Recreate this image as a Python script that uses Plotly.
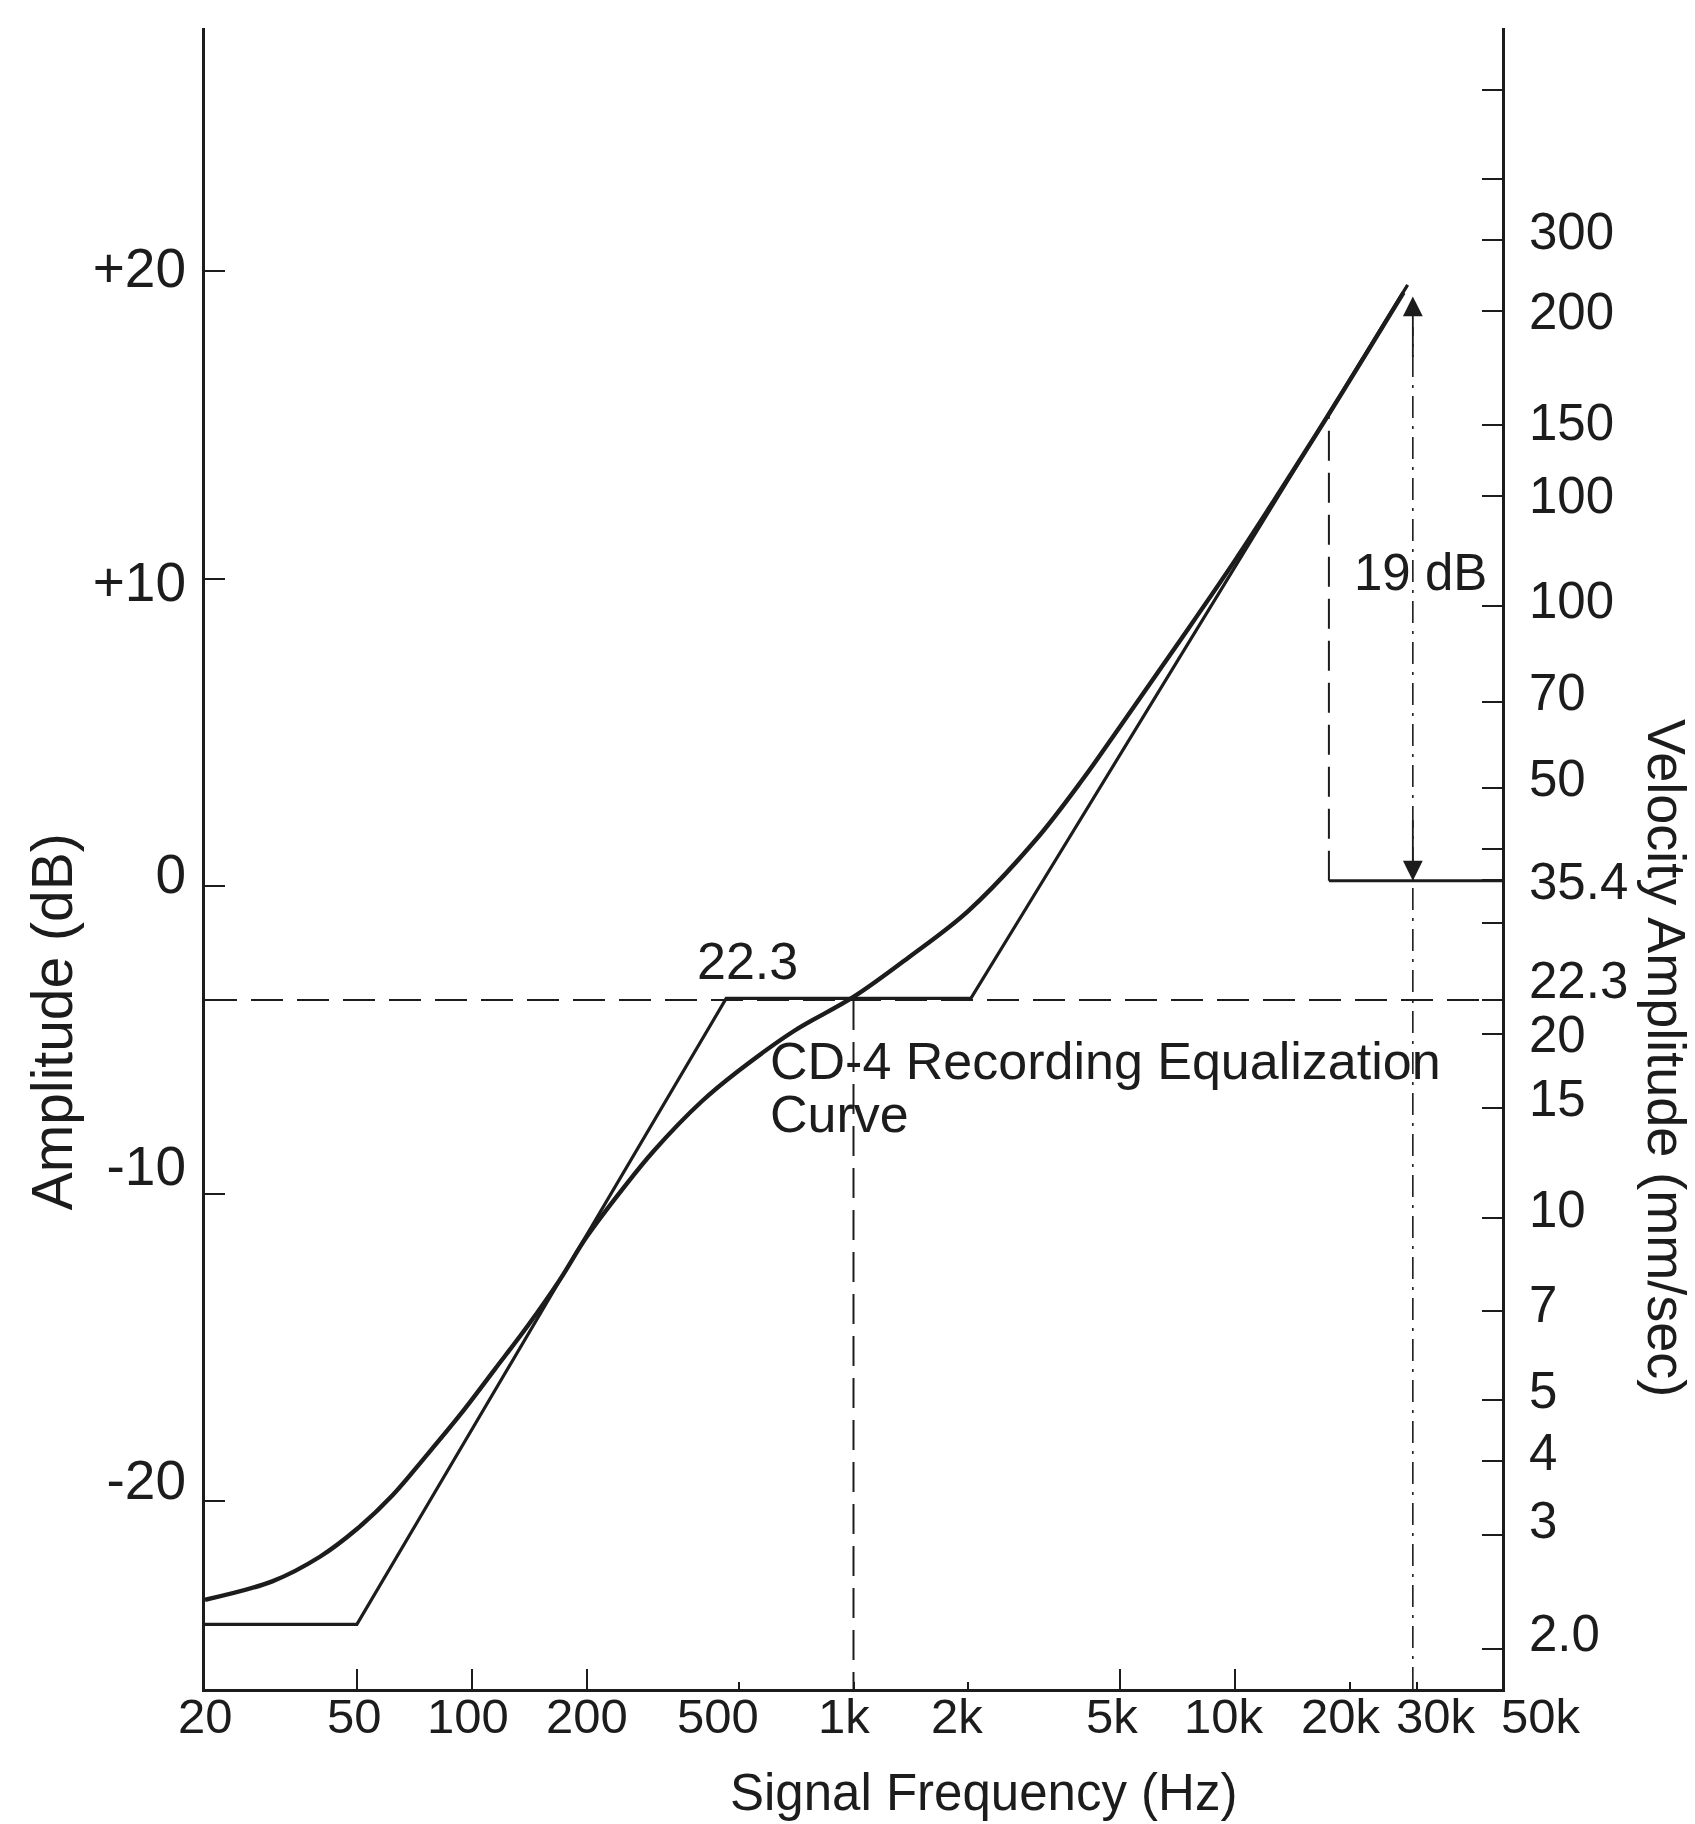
import numpy as np
import plotly.graph_objects as go

# ---------------- data ----------------
# x axis (Signal Frequency, Hz)
freq_ticks = [20, 50, 100, 200, 500, 1000, 2000, 5000, 10000, 20000, 30000, 50000]
freq_labels = ["20", "50", "100", "200", "500", "1k", "2k", "5k", "10k", "20k", "30k", "50k"]
# where each printed label sits along the frequency scale (hand-lettered original)
freq_label_at = [20, 49.4, 97.8, 200, 442, 944, 1866, 4755, 9350, 18930, 33570, 50000]
freq_long_ticks = [50, 100, 200, 5000, 10000]

# left axis (Amplitude, dB)
db_ticks = [20, 10, 0, -10, -20]
db_labels = ["+20", "+10", "0", "-10", "-20"]
db_label_at = [20.1, 9.9, 0.4, -9.1, -19.3]

# right axis (Velocity Amplitude, mm/sec) - positions read in dB
vel_tick_db = [25.9, 23.0, 21.0, 18.7, 15.0, 12.7, 9.1, 6.0, 3.2, 1.2, 0.2,
               -1.2, -3.7, -4.8, -7.2, -10.8, -13.8, -16.7, -18.7, -21.1, -24.8]
vel_label_db = [21.3, 18.7, 15.1, 12.7, 9.3, 6.3, 3.5, 0.15, -3.05, -4.8,
                -6.9, -10.5, -13.6, -16.4, -18.4, -20.6, -24.3]
vel_labels = ["300", "200", "150", "100", "100", "70", "50", "35.4", "22.3", "20",
              "15", "10", "7", "5", "4", "3", "2.0"]

# CD-4 recording equalization curve (smooth)
eq_freq = [20, 30, 40, 50, 62, 75, 93, 115, 140, 170, 200, 250, 300, 400, 500, 700,
           1000, 1400, 2000, 3000, 4000, 5000, 7000, 10000, 14000, 17600, 22000, 27600]
eq_db = [-23.2, -22.6, -21.8, -20.9, -19.8, -18.6, -17.2, -15.7, -14.3, -12.8, -11.4,
         -9.8, -8.6, -7.0, -6.0, -4.7, -3.6, -2.3, -0.8, 1.5, 3.5, 5.2, 7.8, 10.6,
         13.4, 15.35, 17.3, 19.3]

# straight-line asymptotes
asym_freq = [20, 50, 464, 2030, 28300]
asym_db = [-24.0, -24.0, -3.65, -3.65, 19.55]

# reference lines
ref_223_db = -3.7          # 22.3 mm/sec level
ref_354_db = 0.18          # 35.4 mm/sec level
f_1k = 1000
f_meas = 17600
meas_top_db = 15.3
f_arrow = 29200
arrow_top_db = 19.17

x_range = [20, 50000]
y_range = [-26.1, 27.9]

# ---------------- style ----------------
INK = "#1c1c1c"
FONT = "Liberation Sans, Arial, Helvetica, sans-serif"


def fnt(size):
    return dict(size=size, color=INK, family=FONT)


fig = go.Figure()

# horizontal dashed 22.3 level
fig.add_trace(go.Scatter(x=x_range, y=[ref_223_db, ref_223_db], mode="lines",
                         line=dict(color=INK, width=2.2, dash="32px,14px"), hoverinfo="skip"))
# vertical dashed at 1k (on overlay x2)
fig.add_trace(go.Scatter(x=[f_1k, f_1k], y=[ref_223_db, y_range[0]], mode="lines", xaxis="x2",
                         line=dict(color=INK, width=2, dash="30px,12px"), hoverinfo="skip"))
# vertical dashed at measurement freq
fig.add_trace(go.Scatter(x=[f_meas, f_meas], y=[ref_354_db, meas_top_db], mode="lines", yaxis="y3",
                         line=dict(color=INK, width=2, dash="30px,12px"), hoverinfo="skip"))
# solid 35.4 level to the right axis
fig.add_trace(go.Scatter(x=[f_meas, x_range[1]], y=[ref_354_db, ref_354_db], mode="lines", yaxis="y2",
                         line=dict(color=INK, width=3), hoverinfo="skip"))
# vertical dash-dot at ~30k
fig.add_trace(go.Scatter(x=[f_arrow, f_arrow], y=[y_range[0], arrow_top_db - 1], mode="lines",
                         yaxis="y4",
                         line=dict(color=INK, width=1.6, dash="22px,8px,3px,8px"), hoverinfo="skip"))
# asymptotes
fig.add_trace(go.Scatter(x=asym_freq, y=asym_db, mode="lines",
                         line=dict(color=INK, width=3.2), hoverinfo="skip"))
# smooth EQ curve
fig.add_trace(go.Scatter(x=eq_freq, y=eq_db, mode="lines",
                         line=dict(color=INK, width=4.4, shape="spline", smoothing=1.0),
                         hoverinfo="skip"))

annotations = [
    dict(x=np.log10(526), y=-2.44, xref="x", yref="y", text="22.3", showarrow=False,
         font=fnt(52)),
    dict(x=np.log10(597), y=-5.69, xref="x", yref="y", text="CD-4 Recording Equalization",
         showarrow=False, xanchor="left", font=fnt(52)),
    dict(x=np.log10(597), y=-7.4, xref="x", yref="y", text="Curve",
         showarrow=False, xanchor="left", font=fnt(52)),
    dict(x=np.log10(30500), y=10.2, xref="x", yref="y", text="19 dB", showarrow=False,
         font=fnt(51)),
    # arrows
    dict(x=np.log10(f_arrow), y=arrow_top_db, xref="x", yref="y", text="", showarrow=True,
         ax=0, ay=62, arrowhead=2, arrowsize=2.2, arrowwidth=1.8, arrowcolor=INK),
    dict(x=np.log10(f_arrow), y=ref_354_db, xref="x", yref="y", text="", showarrow=True,
         ax=0, ay=-62, arrowhead=2, arrowsize=2.2, arrowwidth=1.8, arrowcolor=INK),
    # axis titles
    dict(x=-0.118, y=0.402, xref="paper", yref="paper", text="Amplitude (dB)", textangle=-90,
         xanchor="center", yanchor="middle", showarrow=False, font=fnt(57)),
    dict(x=1.127, y=0.38, xref="paper", yref="paper", text="Velocity Amplitude (mm/sec)",
         textangle=90, xanchor="center", yanchor="middle", showarrow=False, font=fnt(54)),
    dict(x=0.600, y=-0.0625, xref="paper", yref="paper", text="Signal Frequency (Hz)",
         xanchor="center", yanchor="middle", showarrow=False, font=fnt(51)),
]

# x tick labels (placed where the original lettering sits)
for i, (pos, lab) in enumerate(zip(freq_label_at, freq_labels)):
    last = i == len(freq_labels) - 1
    annotations.append(dict(x=np.log10(pos), y=-0.0163, xref="x", yref="paper", text=lab,
                            showarrow=False, xanchor="left" if last else "center",
                            xshift=-3 if last else 0, yanchor="middle", font=fnt(49)))

log_range = [np.log10(x_range[0]), np.log10(x_range[1])]

fig.update_layout(
    width=1695, height=1824,
    margin=dict(l=197, r=201, t=20, b=143),
    paper_bgcolor="white", plot_bgcolor="white",
    showlegend=False,
    font=dict(family=FONT, size=50, color=INK),
    annotations=annotations,
    xaxis=dict(type="log", range=log_range, tickmode="array", tickvals=freq_ticks,
               ticks="inside", ticklen=7, tickwidth=2, tickcolor=INK, showticklabels=False,
               showline=True, linewidth=3, linecolor=INK, showgrid=False, zeroline=False),
    xaxis2=dict(type="log", range=log_range, overlaying="x", side="bottom", anchor="y",
                tickmode="array", tickvals=freq_long_ticks, ticks="inside", ticklen=20,
                tickwidth=2, tickcolor=INK, showticklabels=False, showline=False,
                showgrid=False, zeroline=False),
    yaxis=dict(range=y_range, tickmode="array", tickvals=db_ticks,
               ticks="inside", ticklen=20, tickwidth=2, tickcolor=INK, showticklabels=False,
               showline=True, linewidth=3, linecolor=INK, showgrid=False, zeroline=False),
    yaxis4=dict(range=y_range, overlaying="y", side="left", anchor="x", tickmode="array",
                tickvals=db_label_at, ticktext=db_labels, ticks="", showline=False,
                showgrid=False, zeroline=False, ticklabelstandoff=18, tickfont=fnt(55)),
    yaxis2=dict(range=y_range, overlaying="y", side="right", anchor="x", tickmode="array",
                tickvals=vel_tick_db, ticks="inside", ticklen=20, tickwidth=2, tickcolor=INK,
                showticklabels=False, showline=True, linewidth=3, linecolor=INK,
                showgrid=False, zeroline=False),
    yaxis3=dict(range=y_range, overlaying="y", side="right", anchor="x", tickmode="array",
                tickvals=vel_label_db, ticktext=vel_labels, ticks="", showline=False,
                showgrid=False, zeroline=False, ticklabelstandoff=26, tickfont=fnt(51)),
)

fig.write_html("out.html")
